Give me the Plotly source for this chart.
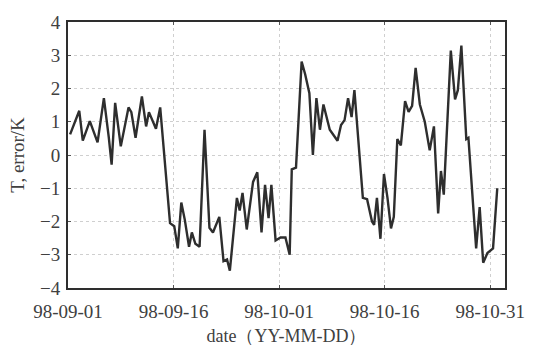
import pandas as pd
import plotly.graph_objects as go

# days elapsed since 1998-09-01 00:00
day_offsets = [0.3, 1.6, 2.1, 3.1, 4.2, 5.1, 5.8, 6.2, 6.7, 7.5, 8.6, 9.0, 9.6, 10.5, 11.1, 11.5,
               12.5, 13.1, 14.5, 15.1, 15.6, 16.1, 16.6, 17.2, 17.6, 18.1, 18.7, 19.4, 20.1, 20.6,
               21.5, 22.1, 22.6, 23.0, 24.0, 24.4, 24.8, 25.4, 26.3, 26.9, 27.5, 28.0, 28.5, 28.9,
               29.5, 30.2, 30.9, 31.5, 31.8, 32.4, 33.2, 33.7, 34.3, 34.8, 35.3, 35.8, 36.3, 37.2,
               38.3, 38.8, 39.3, 39.8, 40.3, 40.7, 41.9, 42.5, 43.2, 43.5, 43.9, 44.4, 44.9, 45.4,
               45.9, 46.3, 46.8, 47.3, 47.9, 48.4, 48.9, 49.4, 50.0, 50.7, 51.4, 52.0, 52.6, 53.0,
               53.4, 54.4, 55.0, 55.4, 55.9, 56.6, 56.9, 58.0, 58.5, 59.0, 59.6, 60.4, 61.0]
errors = [0.62, 1.33, 0.43, 1.02, 0.38, 1.71, 0.52, -0.29, 1.57, 0.26, 1.43, 1.29, 0.52, 1.76, 0.86, 1.29,
          0.79, 1.43, -2.05, -2.14, -2.81, -1.43, -1.95, -2.76, -2.33, -2.67, -2.76, 0.76, -2.19, -2.33,
          -1.86, -3.19, -3.14, -3.48, -1.29, -1.67, -1.14, -2.24, -0.81, -0.52, -2.33, -0.90, -1.90, -0.90,
          -2.57, -2.48, -2.48, -3.0, -0.43, -0.38, 2.81, 2.43, 1.86, 0.0, 1.71, 0.76, 1.52, 0.76,
          0.43, 0.90, 1.05, 1.71, 1.14, 1.95, -1.29, -1.33, -2.0, -2.1, -1.29, -2.52, -0.57, -1.29,
          -2.21, -1.86, 0.48, 0.29, 1.62, 1.30, 1.48, 2.62, 1.52, 1.0, 0.14, 0.86, -1.76, -0.48,
          -1.19, 3.14, 1.67, 1.95, 3.29, 0.48, 0.52, -2.81, -1.57, -3.24, -2.95, -2.81, -1.0]

tick_dates = ["1998-09-01", "1998-09-16", "1998-10-01", "1998-10-16", "1998-10-31"]
tick_labels = ["98-09-01", "98-09-16", "98-10-01", "98-10-16", "98-10-31"]
y_ticks = [-4, -3, -2, -1, 0, 1, 2, 3, 4]

start = pd.Timestamp("1998-09-01")
dates = [start + pd.Timedelta(days=d) for d in day_offsets]

fig = go.Figure()
fig.add_trace(go.Scatter(x=dates, y=errors, mode="lines",
                         line=dict(color="#2e2e2e", width=2.4), showlegend=False))

font_fam = "Liberation Serif, Times New Roman, serif"
txt_col = "#404040"
axis_common = dict(showline=True, linecolor="#2e2e2e", linewidth=1.8, mirror="ticks",
                   ticks="inside", ticklen=3, tickcolor="#555555",
                   showgrid=True, gridcolor="#cfcfcf", griddash="dot", gridwidth=1,
                   zeroline=False, tickfont=dict(family=font_fam, size=19, color=txt_col))

fig.update_layout(
    width=537, height=355,
    margin=dict(l=68, r=28, t=14, b=59),
    paper_bgcolor="white", plot_bgcolor="white",
    font=dict(family=font_fam, color=txt_col),
    xaxis=dict(range=[start, start + pd.Timedelta(days=62.1)],
               tickvals=tick_dates, ticktext=tick_labels, ticklabelstandoff=5,
               title=dict(text="date（YY-MM-DD）", font=dict(family=font_fam, size=18, color=txt_col),
                          standoff=9),
               **axis_common),
    yaxis=dict(range=[-4, 4], tickvals=y_ticks, ticklabelstandoff=2,
               title=dict(text="T, error/K", font=dict(family=font_fam, size=19, color=txt_col),
                          standoff=10),
               **axis_common),
)

fig.write_html("out.html")
